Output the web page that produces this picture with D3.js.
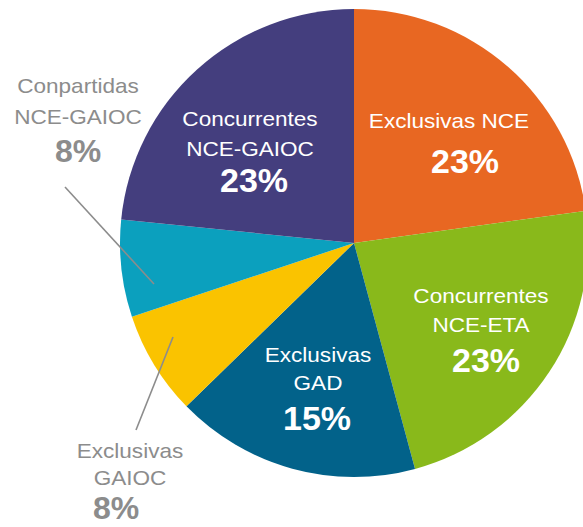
<!DOCTYPE html>
<html>
<head>
<meta charset="utf-8">
<script src="https://cdn.jsdelivr.net/npm/d3@7"></script>
<style>
  body { margin: 0; background: white; }
</style>
</head>
<body>
<div id="container"></div>
<script>
// DATA
let categories = ["Exclusivas NCE", "Concurrentes NCE-ETA", "Exclusivas GAD", "Exclusivas GAIOC", "Conpartidas NCE-GAIOC", "Concurrentes NCE-GAIOC"];
let nameLines = [["Exclusivas NCE"], ["Concurrentes", "NCE-ETA"], ["Exclusivas", "GAD"], ["Exclusivas", "GAIOC"], ["Conpartidas", "NCE-GAIOC"], ["Concurrentes", "NCE-GAIOC"]];
// slice sizes as they are drawn in the picture (share of the circle, %)
let shares = [22.8, 23.0, 16.9, 7.2, 6.7, 23.4];
// percentages as printed on the chart
let pctLabels = ["23%", "23%", "15%", "8%", "8%", "23%"];

let w = 583;
let h = 527;
let cx = 354;
let cy = 243;
let radius = 234;

let colorScale = d3.scaleOrdinal()
    .domain(categories)
    .range(["#E86722", "#89B91B", "#02628A", "#FAC300", "#0BA0BE", "#443E7E"]);

// where each label sits: inside ones are white, outside ones grey with a leader line
// name line x, pct x, first baseline, line gap, pct baseline
let labelLayout = [
  {x: 449, px: 465, y: 128, gap: 0, py: 173, inside: true},
  {x: 481, px: 486, y: 303, gap: 28.5, py: 372, inside: true},
  {x: 318, px: 317, y: 362, gap: 28, py: 430, inside: true},
  {x: 130, px: 116, y: 458, gap: 27, py: 519, inside: false, leader: [[173, 337], [136, 430]]},
  {x: 78, px: 78, y: 93, gap: 31, py: 162, inside: false, leader: [[65, 187], [154, 284]]},
  {x: 250, px: 254, y: 126, gap: 29.5, py: 192, inside: true}
];

// SVG
let viz = d3.select("#container").append("svg")
    .attr("width", w)
    .attr("height", h)
    .style("display", "block")
    .style("background-color", "white")
;

let pie = d3.pie().sort(null).value(d => d);
let arcMaker = d3.arc().innerRadius(0).outerRadius(radius);

let slices = viz.append("g")
    .attr("transform", "translate(" + cx + "," + cy + ")");

slices.selectAll(".slice").data(pie(shares)).enter()
  .append("path")
    .attr("class", "slice")
    .attr("d", arcMaker)
    .attr("fill", (d, i) => colorScale(categories[i]))
;

// leader lines for the small slices
viz.selectAll(".leader").data(labelLayout.filter(d => d.leader)).enter()
  .append("line")
    .attr("class", "leader")
    .attr("x1", d => d.leader[0][0])
    .attr("y1", d => d.leader[0][1])
    .attr("x2", d => d.leader[1][0])
    .attr("y2", d => d.leader[1][1])
    .attr("stroke", "#8c8c8c")
    .attr("stroke-width", 1.6)
;

let labels = viz.selectAll(".label").data(categories).enter()
  .append("g")
    .attr("class", "label")
    .attr("font-family", "'Liberation Sans', Arial, Helvetica, sans-serif")
    .attr("fill", (d, i) => labelLayout[i].inside ? "white" : "#8c8c8c")
;

labels.each(function(d, i) {
  let g = d3.select(this);
  let L = labelLayout[i];
  nameLines[i].forEach((line, j) => {
    g.append("text")
      .attr("transform", "translate(" + L.x + "," + (L.y + j * L.gap) + ") scale(1.1,1)")
      .attr("text-anchor", "middle")
      .attr("font-size", 20.5)
      .text(line);
  });
  g.append("text")
    .attr("x", L.px)
    .attr("y", L.py)
    .attr("text-anchor", "middle")
    .attr("font-size", L.inside ? 34 : 32)
    .attr("font-weight", "bold")
    .text(pctLabels[i]);
});
</script>
</body>
</html>
